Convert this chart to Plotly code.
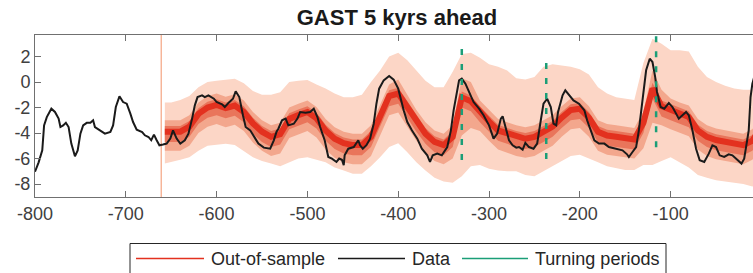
import plotly.graph_objects as go

# ---------------- data ----------------
title_text = "GAST 5 kyrs ahead"

# observed GAST series (black line)
data_x = [-800,-796,-792,-790,-787,-782,-778,-774,-772,-769,-766,-763,-760,-756,-753,-750,-747,-743,-739,-736,-734,-728,-723,-717,-714,-711,-707,-703,-699,-695,-692,-688,-682,-679,-675,-672,-669,-666,-663,-659,-655,-651,-648,-644,-640,-635,-631,-627,-624,-621,-616,-613,-609,-603,-600,-594,-591,-587,-582,-579,-575,-571,-568,-563,-558,-554,-548,-541,-537,-534,-532,-528,-524,-521,-515,-511,-508,-502,-497,-493,-489,-486,-481,-477,-473,-468,-465,-462,-460,-459,-455,-449,-444,-442,-439,-435,-431,-427,-424,-421,-416,-410,-405,-400,-394,-390,-385,-379,-374,-368,-365,-362,-357,-352,-346,-342,-339,-335,-333,-330,-326,-322,-317,-311,-306,-300,-295,-291,-287,-285,-282,-278,-274,-270,-267,-263,-260,-256,-251,-247,-243,-240,-236,-232,-229,-226,-224,-219,-216,-212,-207,-201,-195,-192,-188,-184,-179,-173,-168,-161,-153,-148,-146,-142,-138,-135,-131,-127,-123,-120,-117,-115,-111,-107,-102,-98,-94,-91,-87,-83,-80,-76,-72,-68,-63,-58,-54,-50,-46,-41,-36,-32,-26,-22,-19,-14,-12,-10,-5]
data_y = [-7.04,-6.3,-5.36,-3.4,-2.75,-2.09,-2.35,-2.87,-3.53,-3.4,-3.2,-3.53,-4.83,-5.83,-5.36,-4.05,-3.4,-3.2,-3.2,-3.0,-3.53,-3.79,-4.05,-3.92,-3.4,-1.96,-1.12,-1.57,-1.70,-2.48,-3.14,-3.74,-3.92,-4.18,-4.31,-4.57,-4.13,-4.57,-4.96,-4.9,-4.83,-4.44,-3.79,-4.44,-4.83,-4.57,-4.05,-2.87,-1.83,-1.18,-1.04,-1.18,-1.04,-1.31,-1.57,-1.75,-1.96,-1.65,-1.31,-0.73,-1.18,-2.61,-3.53,-3.79,-4.31,-4.83,-5.15,-5.23,-4.57,-3.9,-3.66,-3.0,-2.87,-3.4,-3.27,-2.87,-2.35,-2.4,-2.35,-2.09,-2.75,-3.53,-4.57,-5.88,-6.01,-6.27,-6.0,-6.1,-6.53,-5.75,-5.23,-5.1,-4.57,-4.96,-5.23,-4.96,-4.44,-3.27,-1.70,-0.52,0.13,0.47,0.19,-0.52,-2.22,-3.14,-3.79,-4.44,-5.23,-5.75,-6.27,-5.75,-5.62,-5.75,-5.1,-3.79,-2.22,-0.78,0.13,0.27,-0.13,-0.78,-1.57,-2.09,-2.61,-3.4,-4.44,-4.05,-2.87,-2.69,-3.53,-4.57,-4.96,-5.15,-5.1,-5.3,-4.78,-5.1,-5.23,-4.83,-3.0,-1.70,-1.31,-1.96,-3.27,-3.4,-2.35,-1.04,-0.65,-1.04,-1.44,-1.70,-2.22,-3.0,-3.79,-4.57,-4.83,-4.83,-5.1,-5.23,-5.36,-5.67,-5.88,-5.49,-5.1,-3.79,-1.18,0.92,1.83,1.57,0.39,-0.78,-1.96,-2.09,-1.65,-1.96,-2.48,-2.87,-2.61,-2.35,-2.61,-3.79,-5.23,-6.14,-6.27,-5.62,-4.96,-5.1,-5.75,-5.88,-5.67,-5.75,-6.14,-6.4,-6.01,-3.79,-1.18,-0.13,1.2]

# out-of-sample forecast (median and uncertainty bands)
fc_x = [-657] + list(range(-650, 1, 10))
fc_med = [-3.9,-3.9,-3.9,-3.5,-2.5,-2.0,-1.8,-2.05,-1.85,-2.35,-3.25,-3.9,-4.3,-4.1,-2.9,-2.6,-2.35,-2.85,-3.8,-4.45,-4.8,-4.95,-4.95,-4.3,-2.75,-1.1,-0.9,-1.95,-3.1,-4.05,-4.7,-4.95,-4.3,-1.2,-1.5,-2.35,-3.1,-3.8,-4.05,-4.3,-4.45,-4.3,-3.9,-3.5,-2.8,-2.2,-2.1,-2.8,-3.9,-4.2,-4.3,-4.4,-4.5,-3.2,-0.5,-1.9,-2.2,-2.5,-2.75,-3.8,-4.3,-4.55,-4.7,-4.8,-4.95,-4.6,-3.5]
fc_out_hi = [-1.6,-1.6,-1.4,-1.1,-0.4,0.0,0.1,0.15,0.25,-0.1,-0.7,-1.0,-1.0,-0.8,0.0,0.1,0.15,-0.2,-0.5,-0.9,-1.2,-1.2,-1.0,0.0,0.9,2.0,2.3,1.7,0.9,0.1,-0.4,-0.4,0.8,2.2,2.3,1.9,1.4,1.2,0.9,0.3,0.2,0.4,1.2,1.4,1.3,1.2,1.0,0.6,-0.4,-0.9,-1.2,-1.3,-1.4,1.5,3.4,3.0,2.5,2.5,2.4,1.2,0.4,0.0,-0.3,-0.5,-0.6,-0.6,0.5]
fc_out_lo = [-6.4,-6.3,-6.1,-5.9,-5.4,-5.0,-4.9,-4.85,-4.95,-5.4,-5.9,-6.2,-6.4,-6.6,-6.3,-6.0,-5.9,-6.1,-6.3,-6.7,-6.95,-7.2,-7.2,-6.6,-5.9,-5.1,-4.8,-5.5,-6.3,-6.95,-7.5,-7.8,-7.9,-7.4,-6.6,-6.5,-6.8,-6.95,-7.0,-7.0,-7.3,-7.4,-7.0,-6.6,-6.2,-5.8,-5.7,-6.0,-6.3,-6.6,-6.75,-6.9,-6.9,-6.5,-6.5,-6.2,-5.9,-6.3,-6.7,-7.3,-7.5,-7.7,-7.8,-7.9,-8.0,-8.2,-8.0]
fc_mid_hi = [-3.0,-3.0,-3.0,-2.6,-1.6,-1.1,-0.9,-1.15,-0.95,-1.45,-2.35,-3.0,-3.4,-3.2,-2.0,-1.7,-1.45,-1.95,-2.9,-3.55,-3.9,-4.05,-4.05,-3.4,-1.85,-0.2,0.2,-1.05,-2.2,-3.15,-3.8,-4.05,-3.4,0.3,0.0,-1.45,-2.2,-2.9,-3.15,-3.4,-3.55,-3.4,-3.0,-2.6,-1.9,-1.3,-1.2,-1.9,-3.0,-3.3,-3.4,-3.5,-3.6,-2.3,0.9,-0.6,-1.3,-1.6,-1.85,-2.9,-3.4,-3.65,-3.8,-3.9,-4.05,-3.7,-2.6]
fc_mid_lo = [-5.4,-5.4,-5.4,-5.0,-4.0,-3.5,-3.3,-3.55,-3.35,-3.85,-4.75,-5.4,-5.8,-5.6,-4.4,-4.1,-3.85,-4.35,-5.3,-5.95,-6.3,-6.45,-6.45,-5.8,-4.25,-2.6,-2.4,-3.45,-4.6,-5.55,-6.2,-6.45,-6.0,-4.2,-3.6,-3.85,-4.6,-5.3,-5.55,-5.8,-5.95,-5.8,-5.4,-5.0,-4.3,-3.7,-3.6,-4.3,-5.4,-5.7,-5.8,-5.9,-6.0,-5.2,-3.2,-3.4,-3.7,-4.0,-4.25,-5.3,-5.8,-6.05,-6.2,-6.3,-6.45,-6.1,-5.0]
fc_in_hi = [-3.45,-3.45,-3.45,-3.05,-2.05,-1.55,-1.35,-1.6,-1.4,-1.9,-2.8,-3.45,-3.85,-3.65,-2.45,-2.15,-1.9,-2.4,-3.35,-4.0,-4.35,-4.5,-4.5,-3.85,-2.3,-0.65,-0.45,-1.5,-2.65,-3.6,-4.25,-4.5,-3.85,-0.75,-1.05,-1.9,-2.65,-3.35,-3.6,-3.85,-4.0,-3.85,-3.45,-3.05,-2.35,-1.75,-1.65,-2.35,-3.45,-3.75,-3.85,-3.95,-4.05,-2.75,-0.05,-1.45,-1.75,-2.05,-2.3,-3.35,-3.85,-4.1,-4.25,-4.35,-4.5,-4.15,-3.05]
fc_in_lo = [-4.7,-4.7,-4.7,-4.3,-3.3,-2.8,-2.6,-2.85,-2.65,-3.15,-4.05,-4.7,-5.1,-4.9,-3.7,-3.4,-3.15,-3.65,-4.6,-5.25,-5.6,-5.75,-5.75,-5.1,-3.55,-1.9,-1.7,-2.75,-3.9,-4.85,-5.5,-5.75,-5.1,-2.0,-2.3,-3.15,-3.9,-4.6,-4.85,-5.1,-5.25,-5.1,-4.7,-4.3,-3.6,-3.0,-2.9,-3.6,-4.7,-5.0,-5.1,-5.2,-5.3,-4.0,-1.3,-2.7,-3.0,-3.3,-3.55,-4.6,-5.1,-5.35,-5.5,-5.6,-5.75,-5.4,-4.3]

split_year = -661

turn_x = [-330, -237, -116]
turn_top = [2.6, 1.5, 3.6]
turn_bot = [-6.4, -6.3, -5.4]

x_ticks = [-800, -700, -600, -500, -400, -300, -200, -100]
x_ticklabels = ["-800", "-700", "-600", "-500", "-400", "-300", "-200", "-100"]
y_ticks = [2, 0, -2, -4, -6, -8]
y_ticklabels = ["2", "0", "-2", "-4", "-6", "-8"]

legend_labels = ["Out-of-sample", "Data", "Turning periods"]

# ---------------- style ----------------
FONT = "Liberation Sans, Arial, sans-serif"
C_OUT = "#fcd6c6"
C_MID = "#f3a78d"
C_IN = "#e9755b"
C_MED = "#e3311f"
C_DATA = "#1a1a1a"
C_TURN = "#1b9e77"
C_SPLIT = "#f4a582"
C_AX = "#707070"
C_TXT = "#404040"

fig = go.Figure()


def band(lo, hi, color):
    fig.add_trace(go.Scatter(
        x=fc_x + fc_x[::-1], y=hi + lo[::-1], fill="toself",
        fillcolor=color, line=dict(width=0), mode="lines",
        hoverinfo="skip", showlegend=False))


band(fc_out_lo, fc_out_hi, C_OUT)
band(fc_mid_lo, fc_mid_hi, C_MID)
band(fc_in_lo, fc_in_hi, C_IN)
fig.add_trace(go.Scatter(x=fc_x, y=fc_med, mode="lines",
                         line=dict(color=C_MED, width=6), showlegend=False))

fig.add_trace(go.Scatter(x=data_x, y=data_y, mode="lines",
                         line=dict(color=C_DATA, width=2), showlegend=False))

tx, ty = [], []
for xv, t, b in zip(turn_x, turn_top, turn_bot):
    tx += [xv, xv, None]
    ty += [t, b, None]
fig.add_trace(go.Scatter(x=tx, y=ty, mode="lines",
                         line=dict(color=C_TURN, width=2.5, dash="6px,9px"),
                         showlegend=False))

fig.add_shape(type="line", xref="x", yref="y domain", x0=split_year, x1=split_year,
              y0=0, y1=1, line=dict(color=C_SPLIT, width=1.2), layer="below")

# ---------------- manual legend (MATLAB style) ----------------
W, H = 753, 273
ML, MR, MT, MB = 35, 0, 35, 76
pw, ph = W - ML - MR, H - MT - MB


def px2x(p):
    return (p - ML) / pw


def py2y(p):
    return (H - MB - p) / ph


fig.add_shape(type="rect", xref="paper", yref="paper",
              x0=px2x(130), x1=px2x(666), y0=py2y(243.5), y1=py2y(290),
              line=dict(color="#262626", width=1), fillcolor="white", layer="above")
leg_y = py2y(258.5)
leg_items = [
    (136, 204, 209, C_MED),
    (338, 405, 410, C_DATA),
    (462, 528, 533, C_TURN),
]
for (l0, l1, tx0, col), lab in zip(leg_items, legend_labels):
    fig.add_shape(type="line", xref="paper", yref="paper",
                  x0=px2x(l0), x1=px2x(l1), y0=leg_y, y1=leg_y,
                  line=dict(color=col, width=1.5))
    fig.add_annotation(xref="paper", yref="paper", x=px2x(tx0), y=leg_y,
                       text=lab, showarrow=False, xanchor="left", yanchor="middle",
                       font=dict(family=FONT, size=18, color="#262626"))

fig.update_layout(
    width=W, height=H,
    margin=dict(l=ML, r=MR, t=MT, b=MB, pad=0),
    paper_bgcolor="white", plot_bgcolor="white",
    showlegend=False,
    title=dict(text=title_text, x=397 / W, xref="container", xanchor="center",
               y=1 - 17 / H, yref="container", yanchor="middle",
               font=dict(family=FONT, size=22, color="#1a1a1a", weight="bold")),
    font=dict(family=FONT, size=18, color=C_TXT),
)
fig.update_xaxes(range=[-800, -9.3], tickvals=x_ticks, ticktext=x_ticklabels,
                 ticks="inside", ticklen=6, tickcolor=C_AX, showline=True,
                 linecolor=C_AX, linewidth=1, mirror="ticks", showgrid=False,
                 zeroline=False, automargin=False,
                 tickfont=dict(family=FONT, size=18, color=C_TXT))
fig.update_yaxes(range=[-9.02, 3.69], tickvals=y_ticks, ticktext=y_ticklabels,
                 ticks="inside", ticklen=6, tickcolor=C_AX, showline=True,
                 linecolor=C_AX, linewidth=1, mirror=False, showgrid=False,
                 zeroline=False, automargin=False,
                 tickfont=dict(family=FONT, size=18, color=C_TXT))

fig.write_html("out.html", config={"displayModeBar": False},
               post_script="document.body.style.margin='0';document.body.style.overflow='hidden';")
